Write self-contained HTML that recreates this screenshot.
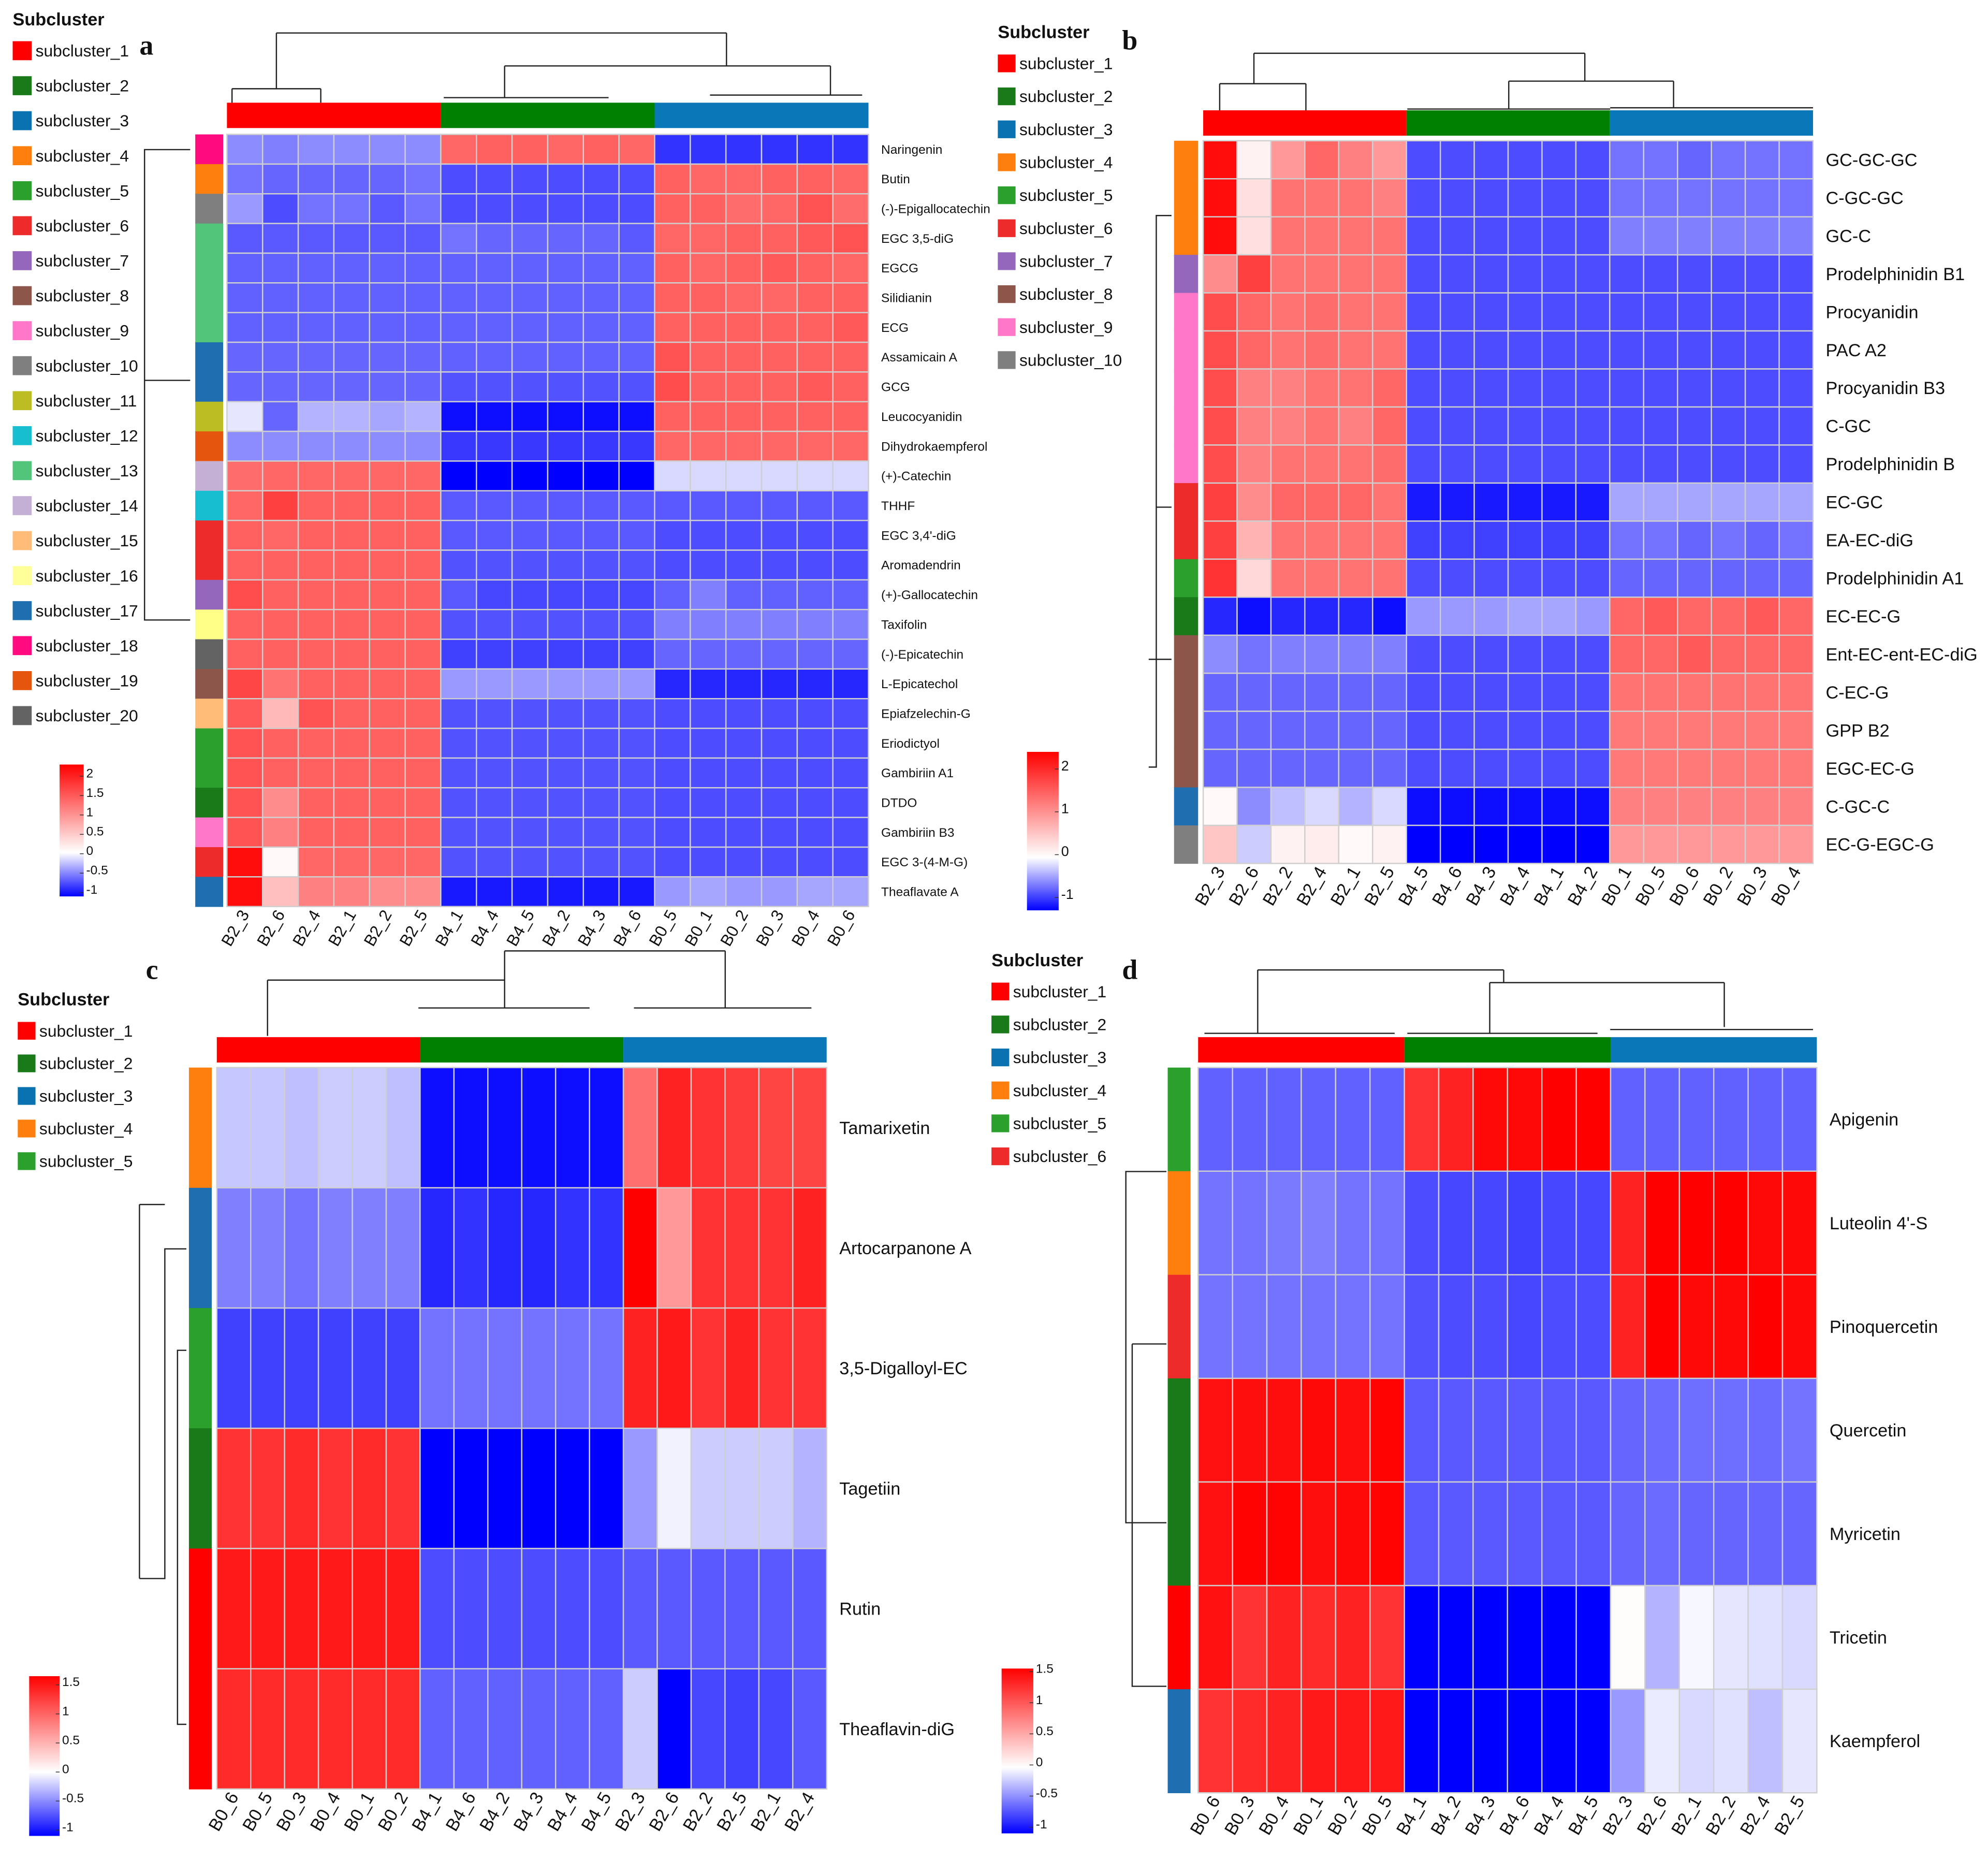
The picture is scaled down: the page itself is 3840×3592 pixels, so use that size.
<!DOCTYPE html>
<html><head><meta charset="utf-8">
<style>
html,body{margin:0;padding:0;background:#fff;}
svg{display:block;font-family:"Liberation Sans",Arial,sans-serif;}
</style></head>
<body>
<svg id="fig" width="3840" height="3592" viewBox="0 0 1568 1467" preserveAspectRatio="none" xmlns="http://www.w3.org/2000/svg">
<defs>
<linearGradient id="gA" x1="0" y1="1" x2="0" y2="0">
<stop offset="0" stop-color="#0000ff"/><stop offset="0.333" stop-color="#ffffff"/><stop offset="1" stop-color="#ff0000"/></linearGradient>
<linearGradient id="gC" x1="0" y1="1" x2="0" y2="0">
<stop offset="0" stop-color="#0000ff"/><stop offset="0.4" stop-color="#ffffff"/><stop offset="1" stop-color="#ff0000"/></linearGradient>
</defs>
</svg>
<script>
// ---------- Panel a data ----------
const rowsA = ["Naringenin","Butin","(-)-Epigallocatechin","EGC 3,5-diG","EGCG","Silidianin","ECG","Assamicain A","GCG","Leucocyanidin","Dihydrokaempferol","(+)-Catechin","THHF","EGC 3,4'-diG","Aromadendrin","(+)-Gallocatechin","Taxifolin","(-)-Epicatechin","L-Epicatechol","Epiafzelechin-G","Eriodictyol","Gambiriin A1","DTDO","Gambiriin B3","EGC 3-(4-M-G)","Theaflavate A"];
const colsA = ["B2_3","B2_6","B2_4","B2_1","B2_2","B2_5","B4_1","B4_4","B4_5","B4_2","B4_3","B4_6","B0_5","B0_1","B0_2","B0_3","B0_4","B0_6"];
const valsA = [
[-0.45,-0.5,-0.45,-0.45,-0.45,-0.45, 1.2,1.25,1.25,1.2,1.25,1.2, -0.8,-0.8,-0.8,-0.8,-0.8,-0.8],
[-0.55,-0.6,-0.6,-0.6,-0.6,-0.55, -0.7,-0.7,-0.7,-0.7,-0.7,-0.7, 1.25,1.2,1.2,1.25,1.25,1.2],
[-0.4,-0.7,-0.55,-0.55,-0.65,-0.55, -0.7,-0.7,-0.7,-0.7,-0.7,-0.7, 1.25,1.25,1.15,1.2,1.35,1.15],
[-0.65,-0.65,-0.65,-0.65,-0.65,-0.65, -0.55,-0.6,-0.6,-0.6,-0.6,-0.65, 1.2,1.2,1.25,1.25,1.3,1.35],
[-0.62,-0.62,-0.62,-0.62,-0.62,-0.62, -0.62,-0.62,-0.62,-0.62,-0.62,-0.62, 1.25,1.2,1.25,1.3,1.25,1.2],
[-0.62,-0.62,-0.62,-0.62,-0.62,-0.62, -0.62,-0.62,-0.62,-0.62,-0.62,-0.62, 1.25,1.25,1.2,1.2,1.25,1.25],
[-0.62,-0.62,-0.62,-0.62,-0.62,-0.62, -0.62,-0.62,-0.62,-0.62,-0.62,-0.62, 1.25,1.25,1.25,1.25,1.25,1.3],
[-0.6,-0.6,-0.6,-0.6,-0.6,-0.6, -0.62,-0.62,-0.62,-0.62,-0.62,-0.62, 1.35,1.25,1.25,1.25,1.25,1.25],
[-0.6,-0.6,-0.6,-0.6,-0.6,-0.6, -0.68,-0.68,-0.68,-0.68,-0.68,-0.68, 1.4,1.25,1.25,1.25,1.3,1.25],
[-0.1,-0.6,-0.3,-0.3,-0.35,-0.3, -0.95,-0.95,-0.95,-0.95,-0.95,-0.95, 1.25,1.25,1.25,1.25,1.25,1.25],
[-0.45,-0.45,-0.45,-0.45,-0.45,-0.45, -0.78,-0.78,-0.78,-0.78,-0.78,-0.78, 1.2,1.2,1.2,1.2,1.2,1.2],
[1.15,1.2,1.2,1.2,1.2,1.2, -1,-1,-1,-1,-1,-1, -0.15,-0.15,-0.15,-0.15,-0.15,-0.15],
[1.2,1.5,1.25,1.25,1.25,1.25, -0.65,-0.65,-0.65,-0.65,-0.65,-0.65, -0.65,-0.65,-0.65,-0.65,-0.65,-0.65],
[1.25,1.2,1.25,1.25,1.25,1.25, -0.65,-0.65,-0.65,-0.65,-0.65,-0.65, -0.7,-0.7,-0.7,-0.7,-0.7,-0.7],
[1.25,1.25,1.25,1.25,1.25,1.25, -0.68,-0.68,-0.68,-0.68,-0.68,-0.68, -0.7,-0.7,-0.7,-0.7,-0.7,-0.7],
[1.4,1.25,1.25,1.25,1.25,1.25, -0.65,-0.72,-0.72,-0.72,-0.72,-0.72, -0.62,-0.5,-0.62,-0.62,-0.62,-0.62],
[1.25,1.25,1.25,1.25,1.25,1.25, -0.68,-0.68,-0.68,-0.68,-0.68,-0.68, -0.5,-0.5,-0.5,-0.5,-0.5,-0.5],
[1.25,1.25,1.25,1.25,1.25,1.25, -0.75,-0.75,-0.75,-0.75,-0.75,-0.75, -0.6,-0.6,-0.6,-0.6,-0.6,-0.6],
[1.45,1.1,1.25,1.25,1.25,1.25, -0.4,-0.4,-0.4,-0.4,-0.4,-0.4, -0.85,-0.85,-0.85,-0.85,-0.85,-0.85],
[1.3,0.55,1.35,1.25,1.25,1.25, -0.68,-0.68,-0.68,-0.68,-0.68,-0.68, -0.7,-0.7,-0.7,-0.7,-0.7,-0.7],
[1.35,1.25,1.25,1.25,1.25,1.25, -0.68,-0.68,-0.68,-0.68,-0.68,-0.68, -0.7,-0.7,-0.7,-0.7,-0.7,-0.7],
[1.35,1.25,1.25,1.25,1.25,1.25, -0.68,-0.68,-0.68,-0.68,-0.68,-0.68, -0.7,-0.7,-0.7,-0.7,-0.7,-0.7],
[1.35,0.9,1.25,1.25,1.25,1.25, -0.68,-0.68,-0.68,-0.68,-0.68,-0.68, -0.7,-0.7,-0.7,-0.7,-0.7,-0.7],
[1.35,1.0,1.25,1.25,1.25,1.25, -0.68,-0.68,-0.68,-0.68,-0.68,-0.68, -0.7,-0.7,-0.7,-0.7,-0.7,-0.7],
[1.9,0.05,1.2,1.2,1.2,1.2, -0.68,-0.68,-0.68,-0.68,-0.68,-0.68, -0.7,-0.7,-0.7,-0.7,-0.7,-0.7],
[1.9,0.5,1.0,1.0,0.9,0.9, -0.9,-0.9,-0.9,-0.9,-0.9,-0.9, -0.4,-0.35,-0.4,-0.4,-0.35,-0.35]
];
const rowColorsA = ["#ff0a7f","#ff7f0e","#7f7f7f","#52c57a","#52c57a","#52c57a","#52c57a","#1f6fb0","#1f6fb0","#bcbd22","#e6550d","#c5b0d5","#17becf","#ee2b2b","#ee2b2b","#9467bd","#ffff88","#636363","#8c564b","#ffbb78","#2ca02c","#2ca02c","#1a7a1a","#ff77c8","#ee2b2b","#1f6fb0"];
const legendA = ["#ff0000","#1a7a1a","#0a72b0","#ff7f0e","#2ca02c","#ee2b2b","#9467bd","#8c564b","#ff77c8","#7f7f7f","#bcbd22","#17becf","#52c57a","#c5b0d5","#ffbb78","#ffff99","#1f6fb0","#ff0a7f","#e6550d","#636363"];

// ---------- Panel b data ----------
const rowsB = ["GC-GC-GC","C-GC-GC","GC-C","Prodelphinidin B1","Procyanidin","PAC A2","Procyanidin B3","C-GC","Prodelphinidin B","EC-GC","EA-EC-diG","Prodelphinidin A1","EC-EC-G","Ent-EC-ent-EC-diG","C-EC-G","GPP B2","EGC-EC-G","C-GC-C","EC-G-EGC-G"];
const colsB = ["B2_3","B2_6","B2_2","B2_4","B2_1","B2_5","B4_5","B4_6","B4_3","B4_4","B4_1","B4_2","B0_1","B0_5","B0_6","B0_2","B0_3","B0_4"];
const valsB = [
[1.9,0.1,0.8,1.2,1.0,0.8, -0.7,-0.7,-0.7,-0.7,-0.7,-0.7, -0.55,-0.55,-0.6,-0.55,-0.55,-0.55],
[1.9,0.25,1.1,1.1,1.1,1.0, -0.7,-0.7,-0.7,-0.7,-0.7,-0.7, -0.55,-0.55,-0.55,-0.55,-0.55,-0.55],
[1.9,0.25,1.1,1.1,1.1,1.1, -0.7,-0.7,-0.7,-0.7,-0.7,-0.7, -0.5,-0.5,-0.5,-0.5,-0.5,-0.5],
[0.9,1.5,1.1,1.1,1.1,1.1, -0.7,-0.7,-0.7,-0.7,-0.7,-0.7, -0.7,-0.7,-0.7,-0.7,-0.7,-0.7],
[1.4,1.2,1.1,1.15,1.1,1.1, -0.7,-0.7,-0.7,-0.7,-0.7,-0.7, -0.7,-0.7,-0.7,-0.7,-0.7,-0.7],
[1.4,1.2,1.1,1.15,1.1,1.1, -0.7,-0.7,-0.7,-0.7,-0.7,-0.7, -0.7,-0.7,-0.7,-0.7,-0.7,-0.7],
[1.4,1.0,1.0,1.1,1.1,1.2, -0.7,-0.7,-0.7,-0.7,-0.7,-0.7, -0.7,-0.7,-0.7,-0.7,-0.7,-0.7],
[1.4,1.0,1.0,1.1,1.0,1.2, -0.7,-0.7,-0.7,-0.7,-0.7,-0.7, -0.7,-0.7,-0.7,-0.7,-0.7,-0.7],
[1.4,1.0,1.1,1.1,1.1,1.15, -0.7,-0.7,-0.7,-0.7,-0.7,-0.7, -0.7,-0.7,-0.7,-0.7,-0.7,-0.7],
[1.5,0.9,1.2,1.2,1.2,1.1, -0.9,-0.9,-0.9,-0.9,-0.9,-0.9, -0.35,-0.35,-0.35,-0.35,-0.35,-0.35],
[1.5,0.6,1.1,1.1,1.1,1.1, -0.75,-0.75,-0.75,-0.75,-0.75,-0.75, -0.55,-0.55,-0.6,-0.55,-0.6,-0.55],
[1.6,0.3,1.1,1.1,1.1,1.1, -0.7,-0.7,-0.7,-0.7,-0.7,-0.7, -0.6,-0.6,-0.6,-0.6,-0.6,-0.6],
[-0.85,-0.95,-0.85,-0.85,-0.85,-0.95, -0.4,-0.4,-0.4,-0.35,-0.35,-0.4, 1.2,1.3,1.2,1.2,1.3,1.2],
[-0.45,-0.55,-0.5,-0.5,-0.5,-0.5, -0.7,-0.7,-0.7,-0.7,-0.7,-0.7, 1.2,1.2,1.3,1.2,1.2,1.2],
[-0.6,-0.6,-0.6,-0.6,-0.6,-0.6, -0.7,-0.7,-0.7,-0.7,-0.7,-0.7, 1.1,1.1,1.1,1.1,1.1,1.1],
[-0.6,-0.6,-0.6,-0.6,-0.6,-0.6, -0.7,-0.7,-0.7,-0.7,-0.7,-0.7, 1.05,1.05,1.05,1.05,1.05,1.05],
[-0.6,-0.6,-0.6,-0.6,-0.6,-0.6, -0.7,-0.7,-0.7,-0.7,-0.7,-0.7, 1.05,1.05,1.05,1.05,1.05,1.05],
[0.05,-0.45,-0.25,-0.15,-0.3,-0.15, -0.95,-0.95,-0.95,-0.95,-0.95,-0.95, 1.0,1.0,1.0,1.0,1.0,1.0],
[0.45,-0.2,0.1,0.15,0.05,0.1, -1,-1,-1,-1,-1,-1, 0.8,0.8,0.8,0.8,0.8,0.8]
];
const rowColorsB = ["#ff7f0e","#ff7f0e","#ff7f0e","#9467bd","#ff77c8","#ff77c8","#ff77c8","#ff77c8","#ff77c8","#ee2b2b","#ee2b2b","#2ca02c","#1a7a1a","#8c564b","#8c564b","#8c564b","#8c564b","#1f6fb0","#7f7f7f"];
const legendB = ["#ff0000","#1a7a1a","#0a72b0","#ff7f0e","#2ca02c","#ee2b2b","#9467bd","#8c564b","#ff77c8","#7f7f7f"];

// ---------- Panel c data ----------
const rowsC = ["Tamarixetin","Artocarpanone A","3,5-Digalloyl-EC","Tagetiin","Rutin","Theaflavin-diG"];
const colsC = ["B0_6","B0_5","B0_3","B0_4","B0_1","B0_2","B4_1","B4_6","B4_2","B4_3","B4_4","B4_5","B2_3","B2_6","B2_2","B2_5","B2_1","B2_4"];
const valsC = [
[-0.22,-0.22,-0.25,-0.2,-0.2,-0.25, -0.95,-0.95,-0.95,-0.95,-0.95,-0.95, 0.85,1.3,1.2,1.15,1.1,1.1],
[-0.5,-0.5,-0.55,-0.5,-0.5,-0.5, -0.85,-0.8,-0.85,-0.85,-0.8,-0.8, 1.5,0.6,1.2,1.2,1.2,1.3],
[-0.75,-0.75,-0.75,-0.75,-0.75,-0.75, -0.55,-0.55,-0.55,-0.55,-0.55,-0.55, 1.3,1.35,1.2,1.3,1.2,1.2],
[1.2,1.2,1.25,1.2,1.25,1.2, -1,-1,-1,-1,-1,-1, -0.4,-0.05,-0.2,-0.2,-0.2,-0.3],
[1.35,1.35,1.35,1.35,1.35,1.35, -0.7,-0.7,-0.7,-0.7,-0.7,-0.7, -0.65,-0.65,-0.65,-0.65,-0.65,-0.65],
[1.25,1.25,1.25,1.25,1.25,1.25, -0.62,-0.62,-0.62,-0.62,-0.62,-0.62, -0.2,-1,-0.72,-0.75,-0.72,-0.65]
];
const rowColorsC = ["#ff7f0e","#1f6fb0","#2ca02c","#1a7a1a","#ff0000","#ff0000"];
const legendC = ["#ff0000","#1a7a1a","#0a72b0","#ff7f0e","#2ca02c"];

// ---------- Panel d data ----------
const rowsD = ["Apigenin","Luteolin 4'-S","Pinoquercetin","Quercetin","Myricetin","Tricetin","Kaempferol"];
const colsD = ["B0_6","B0_3","B0_4","B0_1","B0_2","B0_5","B4_1","B4_2","B4_3","B4_6","B4_4","B4_5","B2_3","B2_6","B2_1","B2_2","B2_4","B2_5"];
const valsD = [
[-0.62,-0.62,-0.62,-0.62,-0.62,-0.62, 1.2,1.3,1.45,1.45,1.5,1.5, -0.62,-0.62,-0.62,-0.62,-0.62,-0.62],
[-0.55,-0.55,-0.52,-0.5,-0.55,-0.55, -0.7,-0.72,-0.72,-0.75,-0.72,-0.72, 1.3,1.5,1.5,1.5,1.45,1.45],
[-0.55,-0.55,-0.55,-0.55,-0.55,-0.55, -0.68,-0.7,-0.7,-0.72,-0.7,-0.7, 1.3,1.5,1.45,1.45,1.5,1.45],
[1.4,1.42,1.42,1.45,1.42,1.48, -0.65,-0.65,-0.65,-0.65,-0.65,-0.65, -0.6,-0.58,-0.57,-0.57,-0.58,-0.55],
[1.4,1.48,1.48,1.42,1.45,1.48, -0.65,-0.65,-0.65,-0.65,-0.65,-0.65, -0.6,-0.58,-0.6,-0.6,-0.6,-0.6],
[1.4,1.2,1.3,1.25,1.3,1.2, -1,-1,-1,-1,-1,-1, 0.02,-0.3,-0.03,-0.1,-0.12,-0.15],
[1.2,1.25,1.3,1.35,1.35,1.35, -1,-1,-1,-1,-1,-1, -0.4,-0.08,-0.15,-0.12,-0.25,-0.1]
];
const rowColorsD = ["#2ca02c","#ff7f0e","#ee2b2b","#1a7a1a","#1a7a1a","#ff0000","#1f6fb0"];
const legendD = ["#ff0000","#1a7a1a","#0a72b0","#ff7f0e","#2ca02c","#ee2b2b"];

const groupColors = ["#ff0000","#008000","#0a78b8"];
const NS = "http://www.w3.org/2000/svg";
const svg = document.getElementById('fig');

function el(tag, attrs, parent){
  const e = document.createElementNS(NS, tag);
  for (const k in attrs) e.setAttribute(k, attrs[k]);
  (parent||svg).appendChild(e);
  return e;
}
function color(v, maxR){
  if (v < 0){ const t = Math.min(1, -v); const c = Math.round(255*(1-t)); return `rgb(${c},${c},255)`; }
  const t = Math.min(1, v/maxR); const c = Math.round(255*(1-t)); return `rgb(255,${c},${c})`;
}

function heatmap(p){
  const g = el('g', {});
  
  
  const nr = p.rows.length, nc = p.cols.length;
  const cw = (p.x1-p.x0)/nc, rh = (p.y1-p.y0)/nr;
  const xs = i => p.x0 + i*cw;
  const ys = j => p.y0 + j*rh;
  // group bar
  for (let k=0;k<3;k++){
    const r = el('rect', {x:xs(k*6), y:p.gy0, width:cw*6, height:p.gy1-p.gy0, fill:groupColors[k]}, g);
    
    
  }
  // cells
  for (let j=0;j<nr;j++){
    for (let i=0;i<nc;i++){
      const r = el('rect', {x:xs(i), y:ys(j), width:cw, height:rh, fill:color(p.vals[j][i], p.maxR), stroke:'#cfcfcf', 'stroke-width':p.sw}, g);
      
      
    }
    const rc = el('rect', {x:p.rbx0, y:ys(j), width:p.rbx1-p.rbx0, height:rh+0.3, fill:p.rowColors[j]}, g);
    
    
    const t = el('text', {x:p.x1+p.lx, y:ys(j)+rh/2+p.rfs*0.35, 'font-size':p.rfs, fill:'#111'}, g);
    t.textContent = p.rows[j];
    
    
  }
  for (let i=0;i<nc;i++){
    const cx = xs(i)+cw/2, cy = p.y1 + 6;
    const t = el('text', {x:cx+p.cfs*0.3, y:cy, 'font-size':p.cfs, 'text-anchor':'end', transform:`rotate(-60 ${cx+p.cfs*0.3} ${cy})`, fill:'#111'}, g);
    t.textContent = p.cols[i];
    
    
  }
  return {xs, ys, cw, rh};
}

function legend(x, y, step, colors, fs, sq, name){
  const g = el('g', {});
  
  
  const h = el('text', {x:x, y:y, 'font-size':fs+1, 'font-weight':'bold', fill:'#111'}, g);
  h.textContent = 'Subcluster';
  
  
  colors.forEach((c, i) => {
    const yy = y + 20 + i*step;
    const r = el('rect', {x:x, y:yy-sq/2, width:sq, height:sq, fill:c}, g);
    
    
    const t = el('text', {x:x+sq+3, y:yy+fs*0.35, 'font-size':fs, fill:'#111'}, g);
    t.textContent = 'subcluster_' + (i+1);
    
    
  });
}

function colorbar(x, y0, y1, w, grad, ticks, vmin, vmax, fs, name){
  const g = el('g', {});
  
  
  const r = el('rect', {x:x, y:y0, width:w, height:y1-y0, fill:`url(#${grad})`}, g);
  
  
  ticks.forEach(tv => {
    const yy = y1 - (tv - vmin)/(vmax - vmin)*(y1 - y0);
    el('line', {x1:x+w-3, x2:x+w, y1:yy, y2:yy, stroke:'#333', 'stroke-width':0.6}, g);
    const t = el('text', {x:x+w+2, y:yy+fs*0.1, 'font-size':fs, fill:'#111'}, g);
    t.textContent = tv;
    
    
  });
}

function path(d, name){
  const p = el('path', {d:d, fill:'none', stroke:'#222', 'stroke-width':1});
  
  
}
function panelLabel(x, y, s){
  const t = el('text', {x:x, y:y, 'font-size':22, 'font-weight':'bold', 'font-family':'Liberation Serif, serif', fill:'#111'});
  t.textContent = s;
  
  
}

// ---------- Panel a ----------
const A = heatmap({name:'heatmap-a', rows:rowsA, cols:colsA, vals:valsA, rowColors:rowColorsA, maxR:2,
  x0:179, x1:685, y0:106, y1:715, gy0:81, gy1:101, rbx0:154, rbx1:176, lx:10, rfs:10, cfs:13, sw:1});
legend(10, 20, 27.6, legendA, 13, 15, 'legend-a');
colorbar(47, 603, 707, 19, 'gA', [2,1.5,1,0.5,0,-0.5,-1], -1.1, 2.3, 10, 'colorbar-a');
panelLabel(110, 43, 'a');
path('M218 26H573M218 26V70M183 70H253M183 70V81M253 70V81M573 26V52M398 52H655M398 52V77M655 52V75M350 77H480M560 75H680', 'column-dendrogram-a');
path('M150 118H114V489H150M114 300H150', 'row-dendrogram-a');

// ---------- Panel b ----------
heatmap({name:'heatmap-b', rows:rowsB, cols:colsB, vals:valsB, rowColors:rowColorsB, maxR:2,
  x0:949, x1:1430, y0:111, y1:681, gy0:87, gy1:107, rbx0:926, rbx1:945, lx:10, rfs:14, cfs:14, sw:1});
legend(787, 30, 26, legendB, 13, 14, 'legend-b');
colorbar(810, 593, 718, 25, 'gA', [2,1,0,-1], -1.3, 2.4, 11, 'colorbar-b');
panelLabel(885, 39, 'b');
path('M989 42H1250M989 42V66M962 66H1030M962 66V87M1030 66V87M1250 42V64M1190 64H1320M1190 64V86M1320 64V85M1110 86H1270M1270 85H1430', 'column-dendrogram-b');
path('M924 170H912V605H906M906 520H924M912 400H924', 'row-dendrogram-b');

// ---------- Panel c ----------
heatmap({name:'heatmap-c', rows:rowsC, cols:colsC, vals:valsC, rowColors:rowColorsC, maxR:1.5,
  x0:171, x1:652, y0:842, y1:1411, gy0:818, gy1:838, rbx0:149, rbx1:167, lx:10, rfs:14, cfs:14, sw:1});
legend(14, 793, 25.7, legendC, 13, 14, 'legend-c');
colorbar(23, 1322, 1448, 24, 'gC', [1.5,1,0.5,0,-0.5,-1], -1.1, 1.65, 10, 'colorbar-c');
panelLabel(115, 772, 'c');
path('M211 773H398M211 773V817M398 773V750M398 750H572M398 750V795M572 750V795M330 795H465M500 795H640', 'column-dendrogram-c');
path('M147 985H130V1245H110M110 950H130M110 950V1245M147 1360H140V1065H147', 'row-dendrogram-c');

// ---------- Panel d ----------
heatmap({name:'heatmap-d', rows:rowsD, cols:colsD, vals:valsD, rowColors:rowColorsD, maxR:1.5,
  x0:945, x1:1433, y0:842, y1:1414, gy0:818, gy1:838, rbx0:921, rbx1:939, lx:10, rfs:14, cfs:14, sw:1});
legend(782, 762, 26, legendD, 13, 14, 'legend-d');
colorbar(790, 1316, 1446, 25, 'gC', [1.5,1,0.5,0,-0.5,-1], -1.1, 1.55, 10, 'colorbar-d');
panelLabel(885, 772, 'd');
path('M992 765H1186M992 765V815M1186 765V775M1175 775H1360M1175 775V815M1360 775V810M950 815H1100M1110 815H1260M1270 812H1430', 'column-dendrogram-d');
path('M920 924H888V1201H920M893 1060V1330H920M893 1060H920', 'row-dendrogram-d');
</script>
</body></html>
